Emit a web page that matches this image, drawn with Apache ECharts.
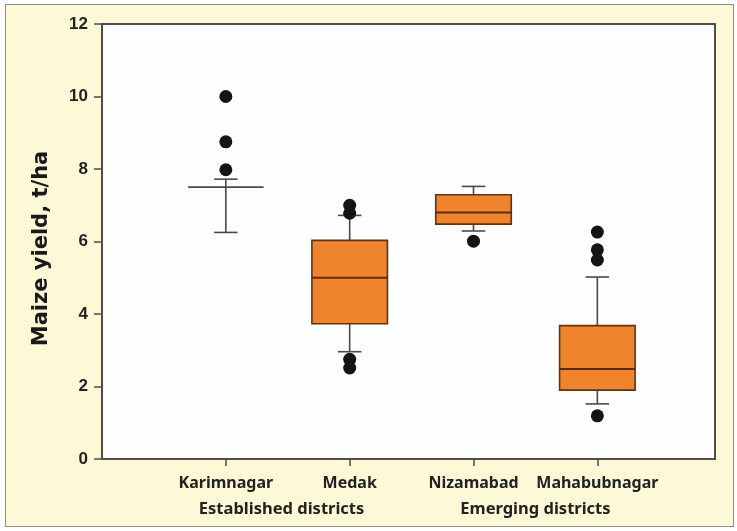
<!DOCTYPE html>
<html>
<head>
<meta charset="utf-8">
<script src="https://cdn.jsdelivr.net/npm/echarts@6/dist/echarts.min.js"></script>
<style>
  html, body { margin: 0; padding: 0; background: #ffffff; }
  #frame {
    position: absolute; left: 5px; top: 4px; width: 727px; height: 521px;
    background: #fdf8d6; border: 1.5px solid #8c8c86;
  }
  #chart { position: absolute; left: 0; top: 0; width: 737px; height: 531px; }
</style>
</head>
<body>
<div id="frame"></div>
<div id="chart"></div>
<script>
// Districts on the horizontal axis and their grouping
const districts = ['Karimnagar', 'Medak', 'Nizamabad', 'Mahabubnagar'];
const groupLabels = ['Established districts', 'Emerging districts'];
const groupAnchors = [1.45, 3.5];   // caption centres, in axis units

// Box statistics per district: [lower whisker, Q1, median, Q3, upper whisker] (t/ha)
const lowerWhisker = [6.25, 2.96, 6.29, 1.52];
const quartile1    = [7.50, 3.73, 6.48, 1.90];
const medians      = [7.50, 5.00, 6.80, 2.48];
const quartile3    = [7.50, 6.03, 7.29, 3.68];
const upperWhisker = [7.72, 6.72, 7.52, 5.02];

// Outlying yields per district (t/ha)
const outliers = [
  [10.0, 8.75, 7.98],
  [7.0, 6.78, 2.75, 2.51],
  [6.01],
  [6.26, 5.77, 5.49, 1.19]
];

const yTicks = { min: 0, max: 12, interval: 2 };

const boxData = districts.map((d, i) => [
  i + 1, lowerWhisker[i], quartile1[i], medians[i], quartile3[i], upperWhisker[i]
]);
const outlierData = [];
outliers.forEach((list, i) => list.forEach(v => outlierData.push([i + 1, v])));

const BOX_W = 0.61;   // box width in axis units
const CAP_W = 0.19;   // whisker cap width in axis units
const whiskerColor = '#4a4a4a';

function renderBox(params, api) {
  const x = api.value(0);
  const lo = api.value(1), q1 = api.value(2), med = api.value(3), q3 = api.value(4), hi = api.value(5);
  const half = api.size([BOX_W, 0])[0] / 2;
  const capHalf = api.size([CAP_W, 0])[0] / 2;
  const pLo = api.coord([x, lo]);
  const pHi = api.coord([x, hi]);
  const pQ1 = api.coord([x, q1]);
  const pQ3 = api.coord([x, q3]);
  const pMed = api.coord([x, med]);
  const cx = pLo[0];
  const lineStyle = { stroke: whiskerColor, lineWidth: 1.6 };
  const children = [
    { type: 'line', shape: { x1: cx, y1: pLo[1], x2: cx, y2: pHi[1] }, style: lineStyle },
    { type: 'line', shape: { x1: cx - capHalf, y1: pLo[1], x2: cx + capHalf, y2: pLo[1] }, style: lineStyle },
    { type: 'line', shape: { x1: cx - capHalf, y1: pHi[1], x2: cx + capHalf, y2: pHi[1] }, style: lineStyle }
  ];
  if (q3 > q1) {
    children.push({
      type: 'rect',
      shape: { x: cx - half, y: pQ3[1], width: half * 2, height: pQ1[1] - pQ3[1] },
      style: { fill: '#f0842c', stroke: '#5e3316', lineWidth: 1.6 }
    });
    children.push({
      type: 'line',
      shape: { x1: cx - half, y1: pMed[1], x2: cx + half, y2: pMed[1] },
      style: { stroke: '#5a2c10', lineWidth: 2 }
    });
  } else {
    // collapsed box: quartiles equal the median
    children.push({
      type: 'line',
      shape: { x1: cx - half, y1: pMed[1], x2: cx + half, y2: pMed[1] },
      style: lineStyle
    });
  }
  return { type: 'group', children };
}

const chart = echarts.init(document.getElementById('chart'), null, { renderer: 'canvas' });

const labelFont = { color: '#222', fontFamily: 'Noto Sans', fontWeight: 'bold', fontSize: 16 };

const option = {
  animation: false,
  grid: {
    left: 102, right: 22, top: 24, bottom: 72,
    show: true, backgroundColor: '#fefeff', borderColor: '#4d4d4d', borderWidth: 2
  },
  xAxis: {
    type: 'value', min: 0, max: 4.95, interval: 1,
    splitLine: { show: false },
    axisLine: { show: true, lineStyle: { color: '#4d4d4d', width: 2 } },
    axisTick: { show: true, customValues: [1, 2, 3, 4], length: 7, lineStyle: { color: '#4d4d4d', width: 1.5 } },
    axisLabel: Object.assign({
      customValues: [1, 2, 3, 4],
      margin: 16,
      formatter: v => districts[Math.round(v) - 1] || ''
    }, labelFont)
  },
  yAxis: {
    type: 'value', min: yTicks.min, max: yTicks.max, interval: yTicks.interval,
    name: 'Maize yield, t/ha', nameLocation: 'middle', nameGap: 50, nameRotate: 90,
    nameTextStyle: {
      color: '#1a1a1a', fontFamily: 'DejaVu Sans', fontWeight: 'bold', fontSize: 21,
      padding: [0, 14, 0, 0]
    },
    splitLine: { show: false },
    axisLine: { show: true, lineStyle: { color: '#4d4d4d', width: 2 } },
    axisTick: { show: true, length: 8, lineStyle: { color: '#4d4d4d', width: 1.5 } },
    axisLabel: {
      margin: 14, color: '#222', fontFamily: 'Liberation Sans', fontWeight: 'bold', fontSize: 17
    }
  },
  series: [
    {
      type: 'custom', name: 'box', renderItem: renderBox,
      encode: { x: 0, y: [1, 2, 3, 4, 5] },
      data: boxData, z: 2
    },
    {
      type: 'scatter', name: 'outliers', data: outlierData,
      symbol: 'circle', symbolSize: 13,
      itemStyle: { color: '#141414', opacity: 1 }, z: 3
    }
  ]
};

chart.setOption(option);

// Group captions beneath their district pairs
const graphics = groupLabels.map((txt, g) => ({
  type: 'text',
  x: chart.convertToPixel({ xAxisIndex: 0 }, groupAnchors[g]),
  y: 509,
  style: {
    text: txt, textAlign: 'center', textVerticalAlign: 'middle',
    fill: '#222', font: 'bold 16.5px "Noto Sans"'
  }
}));
chart.setOption({ graphic: graphics });
</script>
</body>
</html>
